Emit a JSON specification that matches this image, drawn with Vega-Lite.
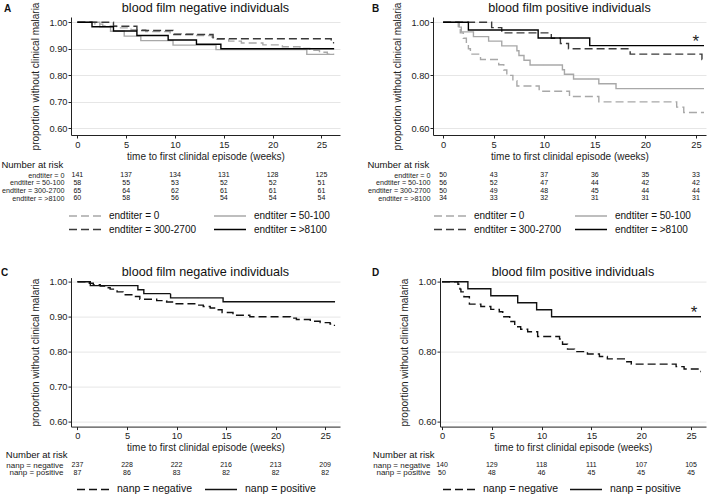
{
"$schema": "https://vega.github.io/schema/vega-lite/v6.json",
"padding": {"left": 1, "top": 2, "right": 0, "bottom": 0},
"config": {
 "font": "Liberation Sans",
 "view": {"stroke": null},
 "title": {"font": "Liberation Sans", "fontWeight": "normal", "color": "#111", "fontSize": 12.6},
 "axis": {"domainColor": "#222", "tickColor": "#222", "labelColor": "#222", "titleColor": "#222", "labelFont": "Liberation Sans", "titleFont": "Liberation Sans", "titleFontWeight": "normal", "labelFontSize": 9.3, "titleFontSize": 10, "gridColor": "#e6e6e6", "tickSize": 3},
 "legend": {"labelFont": "Liberation Sans", "labelColor": "#111"},
 "text": {"font": "Liberation Sans"}
},
"datasets": {
 "kmA": [
  {"g":"endtiter = 0","t":0,"s":1},{"g":"endtiter = 0","t":1.8,"s":0.993},{"g":"endtiter = 0","t":2.6,"s":0.986},{"g":"endtiter = 0","t":4.0,"s":0.979},{"g":"endtiter = 0","t":5.5,"s":0.972},{"g":"endtiter = 0","t":7.0,"s":0.965},{"g":"endtiter = 0","t":9.5,"s":0.957},{"g":"endtiter = 0","t":12.0,"s":0.95},{"g":"endtiter = 0","t":13.8,"s":0.943},{"g":"endtiter = 0","t":14.3,"s":0.936},{"g":"endtiter = 0","t":15.5,"s":0.929},{"g":"endtiter = 0","t":16.8,"s":0.922},{"g":"endtiter = 0","t":19.0,"s":0.915},{"g":"endtiter = 0","t":21.0,"s":0.908},{"g":"endtiter = 0","t":22.8,"s":0.901},{"g":"endtiter = 0","t":23.8,"s":0.894},{"g":"endtiter = 0","t":24.8,"s":0.887},{"g":"endtiter = 0","t":25.6,"s":0.88},{"g":"endtiter = 0","t":26.3,"s":0.88},
  {"g":"endtiter = 50-100","t":0,"s":1},{"g":"endtiter = 50-100","t":2.3,"s":0.983},{"g":"endtiter = 50-100","t":3.4,"s":0.966},{"g":"endtiter = 50-100","t":4.8,"s":0.948},{"g":"endtiter = 50-100","t":6.5,"s":0.931},{"g":"endtiter = 50-100","t":9.8,"s":0.914},{"g":"endtiter = 50-100","t":14.2,"s":0.897},{"g":"endtiter = 50-100","t":23.5,"s":0.879},{"g":"endtiter = 50-100","t":26.3,"s":0.879},
  {"g":"endtiter = 300-2700","t":0,"s":1},{"g":"endtiter = 300-2700","t":3.7,"s":0.985},{"g":"endtiter = 300-2700","t":6.1,"s":0.969},{"g":"endtiter = 300-2700","t":9.8,"s":0.954},{"g":"endtiter = 300-2700","t":13.9,"s":0.938},{"g":"endtiter = 300-2700","t":26.0,"s":0.923},{"g":"endtiter = 300-2700","t":26.3,"s":0.923},
  {"g":"endtiter = >8100","t":0,"s":1},{"g":"endtiter = >8100","t":1.5,"s":0.983},{"g":"endtiter = >8100","t":3.7,"s":0.967},{"g":"endtiter = >8100","t":6.1,"s":0.95},{"g":"endtiter = >8100","t":9.3,"s":0.933},{"g":"endtiter = >8100","t":12.2,"s":0.917},{"g":"endtiter = >8100","t":14.7,"s":0.9},{"g":"endtiter = >8100","t":26.3,"s":0.9}
 ],
 "kmB": [
  {"g":"endtiter = 0","t":0,"s":1},{"g":"endtiter = 0","t":1.5,"s":0.98},{"g":"endtiter = 0","t":1.7,"s":0.96},{"g":"endtiter = 0","t":2.0,"s":0.94},{"g":"endtiter = 0","t":2.3,"s":0.92},{"g":"endtiter = 0","t":2.5,"s":0.9},{"g":"endtiter = 0","t":2.7,"s":0.88},{"g":"endtiter = 0","t":3.7,"s":0.86},{"g":"endtiter = 0","t":5.5,"s":0.84},{"g":"endtiter = 0","t":6.0,"s":0.82},{"g":"endtiter = 0","t":6.3,"s":0.8},{"g":"endtiter = 0","t":6.9,"s":0.78},{"g":"endtiter = 0","t":7.3,"s":0.76},{"g":"endtiter = 0","t":9.5,"s":0.74},{"g":"endtiter = 0","t":12.5,"s":0.72},{"g":"endtiter = 0","t":15.4,"s":0.7},{"g":"endtiter = 0","t":23.1,"s":0.68},{"g":"endtiter = 0","t":23.8,"s":0.66},{"g":"endtiter = 0","t":25.8,"s":0.66},
  {"g":"endtiter = 50-100","t":0,"s":1},{"g":"endtiter = 50-100","t":1.6,"s":0.982},{"g":"endtiter = 50-100","t":1.8,"s":0.964},{"g":"endtiter = 50-100","t":3.0,"s":0.946},{"g":"endtiter = 50-100","t":4.5,"s":0.929},{"g":"endtiter = 50-100","t":5.8,"s":0.911},{"g":"endtiter = 50-100","t":7.3,"s":0.893},{"g":"endtiter = 50-100","t":7.5,"s":0.875},{"g":"endtiter = 50-100","t":8.0,"s":0.857},{"g":"endtiter = 50-100","t":8.6,"s":0.839},{"g":"endtiter = 50-100","t":11.8,"s":0.821},{"g":"endtiter = 50-100","t":12.0,"s":0.804},{"g":"endtiter = 50-100","t":12.9,"s":0.786},{"g":"endtiter = 50-100","t":15.4,"s":0.768},{"g":"endtiter = 50-100","t":17.1,"s":0.75},{"g":"endtiter = 50-100","t":25.8,"s":0.75},
  {"g":"endtiter = 300-2700","t":0,"s":1},{"g":"endtiter = 300-2700","t":4.8,"s":0.98},{"g":"endtiter = 300-2700","t":5.8,"s":0.96},{"g":"endtiter = 300-2700","t":10.7,"s":0.94},{"g":"endtiter = 300-2700","t":11.6,"s":0.92},{"g":"endtiter = 300-2700","t":12.4,"s":0.9},{"g":"endtiter = 300-2700","t":18.5,"s":0.88},{"g":"endtiter = 300-2700","t":25.6,"s":0.86},{"g":"endtiter = 300-2700","t":25.8,"s":0.86},
  {"g":"endtiter = >8100","t":0,"s":1},{"g":"endtiter = >8100","t":2.5,"s":0.971},{"g":"endtiter = >8100","t":9.4,"s":0.941},{"g":"endtiter = >8100","t":14.5,"s":0.912},{"g":"endtiter = >8100","t":25.8,"s":0.912}
 ],
 "kmC": [
  {"g":"nanp = positive","t":0,"s":1},{"g":"nanp = positive","t":1.3,"s":0.989},{"g":"nanp = positive","t":6.1,"s":0.977},{"g":"nanp = positive","t":6.7,"s":0.966},{"g":"nanp = positive","t":9.4,"s":0.954},{"g":"nanp = positive","t":14.7,"s":0.943},{"g":"nanp = positive","t":26.0,"s":0.943},
  {"g":"nanp = negative","t":0,"s":1},{"g":"nanp = negative","t":1.2,"s":0.996},{"g":"nanp = negative","t":1.6,"s":0.992},{"g":"nanp = negative","t":2.3,"s":0.988},{"g":"nanp = negative","t":3.0,"s":0.983},{"g":"nanp = negative","t":3.3,"s":0.979},{"g":"nanp = negative","t":4.0,"s":0.971},{"g":"nanp = negative","t":4.6,"s":0.963},{"g":"nanp = negative","t":5.6,"s":0.958},{"g":"nanp = negative","t":6.3,"s":0.95},{"g":"nanp = negative","t":8.0,"s":0.946},{"g":"nanp = negative","t":9.0,"s":0.942},{"g":"nanp = negative","t":9.7,"s":0.937},{"g":"nanp = negative","t":12.0,"s":0.933},{"g":"nanp = negative","t":12.7,"s":0.929},{"g":"nanp = negative","t":13.4,"s":0.925},{"g":"nanp = negative","t":14.1,"s":0.92},{"g":"nanp = negative","t":14.6,"s":0.912},{"g":"nanp = negative","t":15.7,"s":0.904},{"g":"nanp = negative","t":17.4,"s":0.9},{"g":"nanp = negative","t":21.5,"s":0.896},{"g":"nanp = negative","t":22.1,"s":0.892},{"g":"nanp = negative","t":23.5,"s":0.887},{"g":"nanp = negative","t":24.5,"s":0.883},{"g":"nanp = negative","t":25.5,"s":0.879},{"g":"nanp = negative","t":25.8,"s":0.875},{"g":"nanp = negative","t":26.0,"s":0.875}
 ],
 "kmD": [
  {"g":"nanp = positive","t":0,"s":1},{"g":"nanp = positive","t":2.6,"s":0.98},{"g":"nanp = positive","t":4.9,"s":0.96},{"g":"nanp = positive","t":7.6,"s":0.94},{"g":"nanp = positive","t":9.5,"s":0.92},{"g":"nanp = positive","t":11.0,"s":0.9},{"g":"nanp = positive","t":26.0,"s":0.9},
  {"g":"nanp = negative","t":0,"s":1},{"g":"nanp = negative","t":1.6,"s":0.993},{"g":"nanp = negative","t":1.7,"s":0.986},{"g":"nanp = negative","t":1.8,"s":0.979},{"g":"nanp = negative","t":1.9,"s":0.971},{"g":"nanp = negative","t":2.2,"s":0.957},{"g":"nanp = negative","t":2.75,"s":0.936},{"g":"nanp = negative","t":3.9,"s":0.929},{"g":"nanp = negative","t":4.9,"s":0.921},{"g":"nanp = negative","t":5.75,"s":0.914},{"g":"nanp = negative","t":6.1,"s":0.9},{"g":"nanp = negative","t":6.8,"s":0.886},{"g":"nanp = negative","t":7.3,"s":0.871},{"g":"nanp = negative","t":7.9,"s":0.864},{"g":"nanp = negative","t":8.6,"s":0.857},{"g":"nanp = negative","t":9.6,"s":0.843},{"g":"nanp = negative","t":11.8,"s":0.836},{"g":"nanp = negative","t":12.1,"s":0.821},{"g":"nanp = negative","t":12.6,"s":0.807},{"g":"nanp = negative","t":13.3,"s":0.8},{"g":"nanp = negative","t":14.6,"s":0.793},{"g":"nanp = negative","t":15.8,"s":0.786},{"g":"nanp = negative","t":16.6,"s":0.779},{"g":"nanp = negative","t":18.3,"s":0.771},{"g":"nanp = negative","t":19.0,"s":0.764},{"g":"nanp = negative","t":23.5,"s":0.757},{"g":"nanp = negative","t":24.3,"s":0.75},{"g":"nanp = negative","t":25.7,"s":0.743},{"g":"nanp = negative","t":26.0,"s":0.743}
 ],
 "riskA": [
  {"g":"endtiter = 0","t":0,"n":141},{"g":"endtiter = 0","t":5,"n":137},{"g":"endtiter = 0","t":10,"n":134},{"g":"endtiter = 0","t":15,"n":131},{"g":"endtiter = 0","t":20,"n":128},{"g":"endtiter = 0","t":25,"n":125},
  {"g":"endtiter = 50-100","t":0,"n":58},{"g":"endtiter = 50-100","t":5,"n":55},{"g":"endtiter = 50-100","t":10,"n":53},{"g":"endtiter = 50-100","t":15,"n":52},{"g":"endtiter = 50-100","t":20,"n":52},{"g":"endtiter = 50-100","t":25,"n":51},
  {"g":"endtiter = 300-2700","t":0,"n":65},{"g":"endtiter = 300-2700","t":5,"n":64},{"g":"endtiter = 300-2700","t":10,"n":62},{"g":"endtiter = 300-2700","t":15,"n":61},{"g":"endtiter = 300-2700","t":20,"n":61},{"g":"endtiter = 300-2700","t":25,"n":61},
  {"g":"endtiter = >8100","t":0,"n":60},{"g":"endtiter = >8100","t":5,"n":58},{"g":"endtiter = >8100","t":10,"n":56},{"g":"endtiter = >8100","t":15,"n":54},{"g":"endtiter = >8100","t":20,"n":54},{"g":"endtiter = >8100","t":25,"n":54}
 ],
 "riskB": [
  {"g":"endtiter = 0","t":0,"n":50},{"g":"endtiter = 0","t":5,"n":43},{"g":"endtiter = 0","t":10,"n":37},{"g":"endtiter = 0","t":15,"n":36},{"g":"endtiter = 0","t":20,"n":35},{"g":"endtiter = 0","t":25,"n":33},
  {"g":"endtiter = 50-100","t":0,"n":56},{"g":"endtiter = 50-100","t":5,"n":52},{"g":"endtiter = 50-100","t":10,"n":47},{"g":"endtiter = 50-100","t":15,"n":44},{"g":"endtiter = 50-100","t":20,"n":42},{"g":"endtiter = 50-100","t":25,"n":42},
  {"g":"endtiter = 300-2700","t":0,"n":50},{"g":"endtiter = 300-2700","t":5,"n":49},{"g":"endtiter = 300-2700","t":10,"n":48},{"g":"endtiter = 300-2700","t":15,"n":45},{"g":"endtiter = 300-2700","t":20,"n":44},{"g":"endtiter = 300-2700","t":25,"n":44},
  {"g":"endtiter = >8100","t":0,"n":34},{"g":"endtiter = >8100","t":5,"n":33},{"g":"endtiter = >8100","t":10,"n":32},{"g":"endtiter = >8100","t":15,"n":31},{"g":"endtiter = >8100","t":20,"n":31},{"g":"endtiter = >8100","t":25,"n":31}
 ],
 "riskC": [
  {"g":"nanp = negative","t":0,"n":237},{"g":"nanp = negative","t":5,"n":228},{"g":"nanp = negative","t":10,"n":222},{"g":"nanp = negative","t":15,"n":216},{"g":"nanp = negative","t":20,"n":213},{"g":"nanp = negative","t":25,"n":209},
  {"g":"nanp = positive","t":0,"n":87},{"g":"nanp = positive","t":5,"n":86},{"g":"nanp = positive","t":10,"n":83},{"g":"nanp = positive","t":15,"n":82},{"g":"nanp = positive","t":20,"n":82},{"g":"nanp = positive","t":25,"n":82}
 ],
 "riskD": [
  {"g":"nanp = negative","t":0,"n":140},{"g":"nanp = negative","t":5,"n":129},{"g":"nanp = negative","t":10,"n":118},{"g":"nanp = negative","t":15,"n":111},{"g":"nanp = negative","t":20,"n":107},{"g":"nanp = negative","t":25,"n":105},
  {"g":"nanp = positive","t":0,"n":50},{"g":"nanp = positive","t":5,"n":48},{"g":"nanp = positive","t":10,"n":46},{"g":"nanp = positive","t":15,"n":45},{"g":"nanp = positive","t":20,"n":45},{"g":"nanp = positive","t":25,"n":45}
 ],
 "starB": [{"t": 25.0, "s": 0.925, "label": "*"}],
 "starD": [{"t": 25.3, "s": 0.91, "label": "*"}]
},
"spacing": 28.6,
"resolve": {"scale": {"x": "independent", "y": "independent", "color": "independent", "strokeDash": "independent"}, "legend": {"color": "independent", "strokeDash": "independent"}},
"vconcat": [
 {
  "hconcat": [
   {
    "title": {"text": "A", "anchor": "start", "frame": "group", "fontWeight": "bold", "fontSize": 10, "dx": -67, "offset": -12},
    "bounds": "flush", "spacing": 36.1,
    "resolve": {"scale": {"x": "independent", "y": "independent", "color": "independent", "strokeDash": "independent"}, "legend": {"color": "independent", "strokeDash": "independent"}},
    "vconcat": [
     {
      "width": 269, "height": 118,
      "title": {"text": "blood film negative individuals", "offset": -13},
      "data": {"name": "kmA"},
      "mark": {"type": "line", "interpolate": "step-after", "strokeWidth": 1.4},
      "encoding": {
       "x": {"field": "t", "type": "quantitative", "scale": {"domain": [-0.65, 26.9], "nice": false, "zero": false}, "axis": {"values": [0,5,10,15,20,25], "title": "time to first clinidal episode (weeks)", "grid": false, "labelPadding": 2, "titlePadding": 2}},
       "y": {"field": "s", "type": "quantitative", "scale": {"domain": [0.575, 1.02], "nice": false, "zero": false}, "axis": {"values": [0.6,0.7,0.8,0.9,1.0], "format": ".2f", "title": "proportion without clinical malaria", "grid": true, "labelPadding": 1, "titlePadding": 8}},
       "color": {"field": "g", "type": "nominal", "scale": {"domain": ["endtiter = 0","endtiter = 50-100","endtiter = 300-2700","endtiter = >8100"], "range": ["#a8a8a8","#a8a8a8","#3a3a3a","#000000"]}, "legend": null},
       "strokeDash": {"field": "g", "type": "nominal", "scale": {"domain": ["endtiter = 0","endtiter = 50-100","endtiter = 300-2700","endtiter = >8100"], "range": [[8,4],[1,0],[8,4],[1,0]]}, "legend": null}
      }
     },
     {
      "width": 269, "height": 31.2,
      "title": {"text": "Number at risk", "anchor": "start", "frame": "bounds", "fontSize": 9.5, "offset": 2},
      "data": {"name": "riskA"},
      "layer": [
       {"mark": {"type": "text", "fontSize": 7, "color": "#111"},
        "encoding": {
         "x": {"field": "t", "type": "quantitative", "scale": {"domain": [-0.65, 26.9], "nice": false, "zero": false}, "axis": null},
         "y": {"field": "g", "type": "nominal", "sort": ["endtiter = 0","endtiter = 50-100","endtiter = 300-2700","endtiter = >8100"], "axis": {"title": null, "domain": false, "ticks": false, "grid": false, "labelFontSize": 7.2, "labelPadding": 7}},
         "text": {"field": "n", "type": "quantitative"}}},
       {"transform": [{"filter": "datum.t < 0"}],
        "mark": {"type": "line", "strokeWidth": 1.5},
        "encoding": {
         "x": {"field": "t", "type": "quantitative"},
         "y": {"field": "g", "type": "nominal", "sort": ["endtiter = 0","endtiter = 50-100","endtiter = 300-2700","endtiter = >8100"]},
         "color": {"field": "g", "type": "nominal", "scale": {"domain": ["endtiter = 0","endtiter = 50-100","endtiter = 300-2700","endtiter = >8100"], "range": ["#a8a8a8","#a8a8a8","#3a3a3a","#000000"]}, "legend": {"orient": "none", "legendX": 7, "legendY": 38, "direction": "horizontal", "columns": 2, "title": null, "symbolType": "M-2.667,0H2.667", "symbolSize": 144, "symbolStrokeWidth": 1.5, "labelFontSize": 10, "labelOffset": 17, "columnPadding": 13, "rowPadding": 1.4, "padding": 0}},
         "strokeDash": {"field": "g", "type": "nominal", "scale": {"domain": ["endtiter = 0","endtiter = 50-100","endtiter = 300-2700","endtiter = >8100"], "range": [[8,4],[1,0],[8,4],[1,0]]}, "legend": {"orient": "none", "legendX": 7, "legendY": 38, "direction": "horizontal", "columns": 2, "title": null, "symbolType": "M-2.667,0H2.667", "symbolSize": 144, "symbolStrokeWidth": 1.5, "labelFontSize": 10, "labelOffset": 17, "columnPadding": 13, "rowPadding": 1.4, "padding": 0}}
        }}
      ]
     }
    ]
   },
   {
    "title": {"text": "B", "anchor": "start", "frame": "group", "fontWeight": "bold", "fontSize": 10, "dx": -61, "offset": -12},
    "bounds": "flush", "spacing": 36.1,
    "resolve": {"scale": {"x": "independent", "y": "independent", "color": "independent", "strokeDash": "independent"}, "legend": {"color": "independent", "strokeDash": "independent"}},
    "vconcat": [
     {
      "width": 273, "height": 118,
      "title": {"text": "blood film positive individuals", "offset": -13},
      "layer": [
       {"data": {"name": "kmB"},
        "mark": {"type": "line", "interpolate": "step-after", "strokeWidth": 1.4},
        "encoding": {
         "x": {"field": "t", "type": "quantitative", "scale": {"domain": [-1.0, 26.0], "nice": false, "zero": false}, "axis": {"values": [0,5,10,15,20,25], "title": "time to first clinidal episode (weeks)", "grid": false, "labelPadding": 2, "titlePadding": 2}},
         "y": {"field": "s", "type": "quantitative", "scale": {"domain": [0.575, 1.02], "nice": false, "zero": false}, "axis": {"values": [0.6,0.7,0.8,0.9,1.0], "format": ".2f", "title": "proportion without clinical malaria", "grid": true, "labelPadding": 1, "titlePadding": 8}},
         "color": {"field": "g", "type": "nominal", "scale": {"domain": ["endtiter = 0","endtiter = 50-100","endtiter = 300-2700","endtiter = >8100"], "range": ["#a8a8a8","#a8a8a8","#3a3a3a","#000000"]}, "legend": null},
         "strokeDash": {"field": "g", "type": "nominal", "scale": {"domain": ["endtiter = 0","endtiter = 50-100","endtiter = 300-2700","endtiter = >8100"], "range": [[8,4],[1,0],[8,4],[1,0]]}, "legend": null}
        }},
       {"data": {"name": "starB"},
        "mark": {"type": "text", "fontSize": 17, "color": "#222", "baseline": "middle"},
        "encoding": {"x": {"field": "t", "type": "quantitative"}, "y": {"field": "s", "type": "quantitative"}, "text": {"field": "label"}}}
      ]
     },
     {
      "width": 273, "height": 31.2,
      "title": {"text": "Number at risk", "anchor": "start", "frame": "bounds", "fontSize": 9.5, "offset": 2},
      "data": {"name": "riskB"},
      "layer": [
       {"mark": {"type": "text", "fontSize": 7, "color": "#111"},
        "encoding": {
         "x": {"field": "t", "type": "quantitative", "scale": {"domain": [-1.0, 26.0], "nice": false, "zero": false}, "axis": null},
         "y": {"field": "g", "type": "nominal", "sort": ["endtiter = 0","endtiter = 50-100","endtiter = 300-2700","endtiter = >8100"], "axis": {"title": null, "domain": false, "ticks": false, "grid": false, "labelFontSize": 7.2, "labelPadding": 3}},
         "text": {"field": "n", "type": "quantitative"}}},
       {"transform": [{"filter": "datum.t < 0"}],
        "mark": {"type": "line", "strokeWidth": 1.5},
        "encoding": {
         "x": {"field": "t", "type": "quantitative"},
         "y": {"field": "g", "type": "nominal", "sort": ["endtiter = 0","endtiter = 50-100","endtiter = 300-2700","endtiter = >8100"]},
         "color": {"field": "g", "type": "nominal", "scale": {"domain": ["endtiter = 0","endtiter = 50-100","endtiter = 300-2700","endtiter = >8100"], "range": ["#a8a8a8","#a8a8a8","#3a3a3a","#000000"]}, "legend": {"orient": "none", "legendX": 10, "legendY": 38, "direction": "horizontal", "columns": 2, "title": null, "symbolType": "M-2.667,0H2.667", "symbolSize": 144, "symbolStrokeWidth": 1.5, "labelFontSize": 10, "labelOffset": 17, "columnPadding": 9, "rowPadding": 1.4, "padding": 0}},
         "strokeDash": {"field": "g", "type": "nominal", "scale": {"domain": ["endtiter = 0","endtiter = 50-100","endtiter = 300-2700","endtiter = >8100"], "range": [[8,4],[1,0],[8,4],[1,0]]}, "legend": {"orient": "none", "legendX": 10, "legendY": 38, "direction": "horizontal", "columns": 2, "title": null, "symbolType": "M-2.667,0H2.667", "symbolSize": 144, "symbolStrokeWidth": 1.5, "labelFontSize": 10, "labelOffset": 17, "columnPadding": 9, "rowPadding": 1.4, "padding": 0}}
        }}
      ]
     }
    ]
   }
  ],
  "spacing": 27,
  "resolve": {"scale": {"x": "independent", "y": "independent", "color": "independent", "strokeDash": "independent"}, "legend": {"color": "independent", "strokeDash": "independent"}}
 },
 {
  "hconcat": [
   {
    "title": {"text": "C", "anchor": "start", "frame": "group", "fontWeight": "bold", "fontSize": 10, "dx": -70, "offset": -12},
    "bounds": "flush", "spacing": 34.6,
    "resolve": {"scale": {"x": "independent", "y": "independent", "color": "independent", "strokeDash": "independent"}, "legend": {"color": "independent", "strokeDash": "independent"}},
    "vconcat": [
     {
      "width": 269, "height": 149,
      "title": {"text": "blood film negative individuals", "offset": -0.5},
      "data": {"name": "kmC"},
      "mark": {"type": "line", "interpolate": "step-after", "strokeWidth": 1.4},
      "encoding": {
       "x": {"field": "t", "type": "quantitative", "scale": {"domain": [-0.65, 26.5], "nice": false, "zero": false}, "axis": {"values": [0,5,10,15,20,25], "title": "time to first clinidal episode (weeks)", "grid": false, "labelPadding": 2, "titlePadding": 2}},
       "y": {"field": "s", "type": "quantitative", "scale": {"domain": [0.585, 1.012], "nice": false, "zero": false}, "axis": {"values": [0.6,0.7,0.8,0.9,1.0], "format": ".2f", "title": "proportion without clinical malaria", "grid": true, "labelPadding": 1, "titlePadding": 8}},
       "color": {"field": "g", "type": "nominal", "scale": {"domain": ["nanp = negative","nanp = positive"], "range": ["#111111","#111111"]}, "legend": null},
       "strokeDash": {"field": "g", "type": "nominal", "scale": {"domain": ["nanp = negative","nanp = positive"], "range": [[8,4],[1,0]]}, "legend": null}
      }
     },
     {
      "width": 269, "height": 15.6,
      "title": {"text": "Number at risk", "anchor": "start", "frame": "bounds", "fontSize": 9.5, "offset": 2},
      "data": {"name": "riskC"},
      "layer": [
       {"mark": {"type": "text", "fontSize": 7, "color": "#111"},
        "encoding": {
         "x": {"field": "t", "type": "quantitative", "scale": {"domain": [-0.65, 26.5], "nice": false, "zero": false}, "axis": null},
         "y": {"field": "g", "type": "nominal", "sort": ["nanp = negative","nanp = positive"], "axis": {"title": null, "domain": false, "ticks": false, "grid": false, "labelFontSize": 8, "labelPadding": 8}},
         "text": {"field": "n", "type": "quantitative"}}},
       {"transform": [{"filter": "datum.t < 0"}],
        "mark": {"type": "line", "strokeWidth": 1.5},
        "encoding": {
         "x": {"field": "t", "type": "quantitative"},
         "y": {"field": "g", "type": "nominal", "sort": ["nanp = negative","nanp = positive"]},
         "color": {"field": "g", "type": "nominal", "scale": {"domain": ["nanp = negative","nanp = positive"], "range": ["#111111","#111111"]}, "legend": {"orient": "none", "legendX": 15, "legendY": 21, "direction": "horizontal", "columns": 2, "title": null, "symbolType": "M-2.667,0H2.667", "symbolSize": 144, "symbolStrokeWidth": 1.5, "labelFontSize": 10.5, "labelOffset": 17, "columnPadding": 8, "rowPadding": 1.4, "padding": 0}},
         "strokeDash": {"field": "g", "type": "nominal", "scale": {"domain": ["nanp = negative","nanp = positive"], "range": [[8,4],[1,0]]}, "legend": {"orient": "none", "legendX": 15, "legendY": 21, "direction": "horizontal", "columns": 2, "title": null, "symbolType": "M-2.667,0H2.667", "symbolSize": 144, "symbolStrokeWidth": 1.5, "labelFontSize": 10.5, "labelOffset": 17, "columnPadding": 8, "rowPadding": 1.4, "padding": 0}}
        }}
      ]
     }
    ]
   },
   {
    "title": {"text": "D", "anchor": "start", "frame": "group", "fontWeight": "bold", "fontSize": 10, "dx": -68, "offset": -12},
    "bounds": "flush", "spacing": 34.6,
    "resolve": {"scale": {"x": "independent", "y": "independent", "color": "independent", "strokeDash": "independent"}, "legend": {"color": "independent", "strokeDash": "independent"}},
    "vconcat": [
     {
      "width": 266, "height": 149,
      "title": {"text": "blood film positive individuals", "offset": -0.5},
      "layer": [
       {"data": {"name": "kmD"},
        "mark": {"type": "line", "interpolate": "step-after", "strokeWidth": 1.4},
        "encoding": {
         "x": {"field": "t", "type": "quantitative", "scale": {"domain": [-0.2, 26.5], "nice": false, "zero": false}, "axis": {"values": [0,5,10,15,20,25], "title": "time to first clinidal episode (weeks)", "grid": false, "labelPadding": 2, "titlePadding": 2}},
         "y": {"field": "s", "type": "quantitative", "scale": {"domain": [0.585, 1.012], "nice": false, "zero": false}, "axis": {"values": [0.6,0.7,0.8,0.9,1.0], "format": ".2f", "title": "proportion without clinical malaria", "grid": true, "labelPadding": 1, "titlePadding": 8}},
         "color": {"field": "g", "type": "nominal", "scale": {"domain": ["nanp = negative","nanp = positive"], "range": ["#111111","#111111"]}, "legend": null},
         "strokeDash": {"field": "g", "type": "nominal", "scale": {"domain": ["nanp = negative","nanp = positive"], "range": [[8,4],[1,0]]}, "legend": null}
        }},
       {"data": {"name": "starD"},
        "mark": {"type": "text", "fontSize": 17, "color": "#222", "baseline": "middle"},
        "encoding": {"x": {"field": "t", "type": "quantitative"}, "y": {"field": "s", "type": "quantitative"}, "text": {"field": "label"}}}
      ]
     },
     {
      "width": 266, "height": 15.6,
      "title": {"text": "Number at risk", "anchor": "start", "frame": "bounds", "fontSize": 9.5, "offset": 2},
      "data": {"name": "riskD"},
      "layer": [
       {"mark": {"type": "text", "fontSize": 7, "color": "#111"},
        "encoding": {
         "x": {"field": "t", "type": "quantitative", "scale": {"domain": [-0.2, 26.5], "nice": false, "zero": false}, "axis": null},
         "y": {"field": "g", "type": "nominal", "sort": ["nanp = negative","nanp = positive"], "axis": {"title": null, "domain": false, "ticks": false, "grid": false, "labelFontSize": 8, "labelPadding": 10}},
         "text": {"field": "n", "type": "quantitative"}}},
       {"transform": [{"filter": "datum.t < 0"}],
        "mark": {"type": "line", "strokeWidth": 1.5},
        "encoding": {
         "x": {"field": "t", "type": "quantitative"},
         "y": {"field": "g", "type": "nominal", "sort": ["nanp = negative","nanp = positive"]},
         "color": {"field": "g", "type": "nominal", "scale": {"domain": ["nanp = negative","nanp = positive"], "range": ["#111111","#111111"]}, "legend": {"orient": "none", "legendX": 12, "legendY": 21, "direction": "horizontal", "columns": 2, "title": null, "symbolType": "M-2.667,0H2.667", "symbolSize": 144, "symbolStrokeWidth": 1.5, "labelFontSize": 10.5, "labelOffset": 17, "columnPadding": 7, "rowPadding": 1.4, "padding": 0}},
         "strokeDash": {"field": "g", "type": "nominal", "scale": {"domain": ["nanp = negative","nanp = positive"], "range": [[8,4],[1,0]]}, "legend": {"orient": "none", "legendX": 12, "legendY": 21, "direction": "horizontal", "columns": 2, "title": null, "symbolType": "M-2.667,0H2.667", "symbolSize": 144, "symbolStrokeWidth": 1.5, "labelFontSize": 10.5, "labelOffset": 17, "columnPadding": 7, "rowPadding": 1.4, "padding": 0}}
        }}
      ]
     }
    ]
   }
  ],
  "spacing": 32,
  "resolve": {"scale": {"x": "independent", "y": "independent", "color": "independent", "strokeDash": "independent"}, "legend": {"color": "independent", "strokeDash": "independent"}}
 }
]
}
